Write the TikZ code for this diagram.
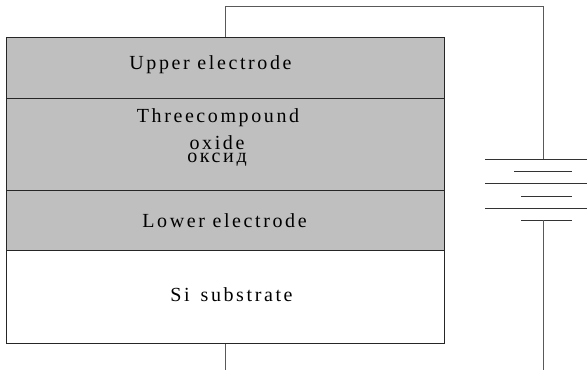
\documentclass[tikz,border=0pt]{standalone}
\usepackage{fontspec}
\usepackage{xcolor}
\usepackage{tikz}
\usetikzlibrary{positioning}
\newfontfamily\layerfont[LetterSpace=13]{Liberation Serif}

\begin{document}
\begin{tikzpicture}[
    x=1pt, y=-1pt,
    layer/.style={rectangle, draw=black!85, line width=1pt, minimum width=438pt,
                  inner sep=0pt, anchor=north},
    caption/.style={font=\layerfont\fontsize{20}{22}\selectfont, inner sep=0pt, anchor=base},
    wire/.style={draw=black!65, line width=1pt},
    plate/.style={draw=black!80, line width=1pt}
]
\useasboundingbox (0,0) rectangle (587,370);
\node[layer, fill=black!25, minimum height=61pt] (upper) at (225.5,37) {};
\node[layer, fill=black!25, minimum height=91.5pt] (oxide) at (225.5,98) {};
\node[layer, fill=black!25, minimum height=60.5pt] (lower) at (225.5,189.5) {};
\node[layer, fill=white, minimum height=92.5pt] (substrate) at (225.5,250) {};
\node[caption] (uppertext) at (210.5,69.5) {Upper electrode};
\node[caption] (threetext) at (218,122.5) {Threecompound};
\node[caption] (oxidetext) at (217,149) {oxide};
\node[caption] (oksidtext) at (217,162.5) {оксид};
\node[caption] (lowertext) at (224.5,227.3) {Lower electrode};
\node[caption] (sitext) at (231.5,301) {Si\, substrate};
% battery
\foreach \y/\xa/\xb in {159/485/587, 171.5/514/572, 183.5/485/587,
                        196/521/572, 208/485/587, 220/521/572} {
    \draw[plate] (\xa,\y) -- (\xb,\y);
}
\coordinate (topcorner) at (543,6.5);
\coordinate (platetop) at (543,159);
\coordinate (platebottom) at (543,220);
\coordinate (wireend) at (543,370);
\coordinate (subend) at (225.5,370);
\draw[wire] (upper.north) |- (topcorner) -- (platetop);
\draw[wire] (platebottom) -- (wireend);
\draw[wire] (substrate.south) -- (subend);
\end{tikzpicture}
\end{document}
